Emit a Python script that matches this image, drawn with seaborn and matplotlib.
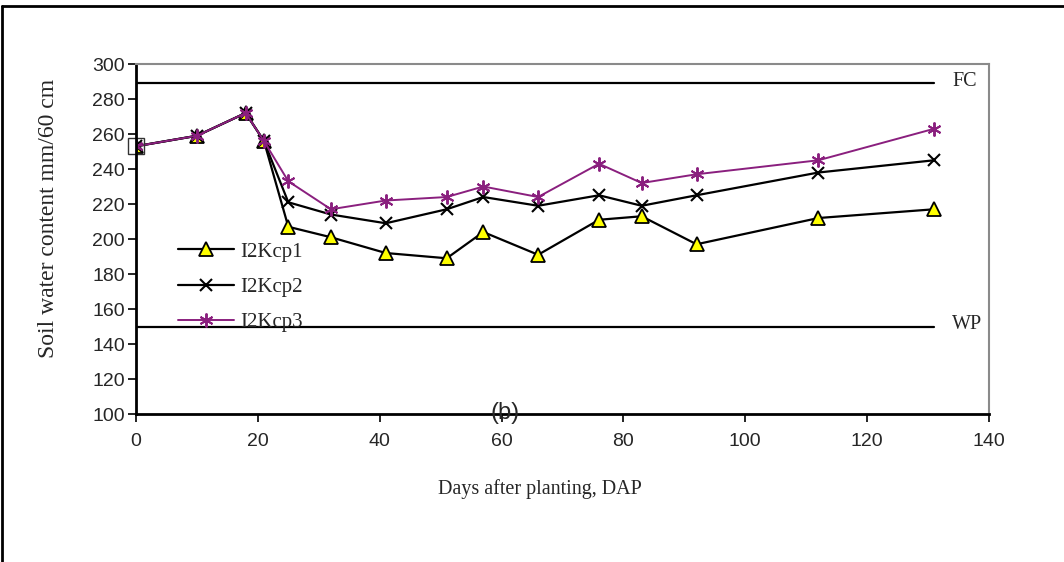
import numpy as np
import pandas as pd
import matplotlib
matplotlib.use('Agg')
import matplotlib.pyplot as plt
from matplotlib.lines import Line2D
import seaborn as sns

# Data
dap = [0, 10, 18, 21, 25, 32, 41, 51, 57, 66, 76, 83, 92, 112, 131]
i2kcp1 = [253, 259, 272, 256, 207, 201, 192, 189, 204, 191, 211, 213, 197, 212, 217]
i2kcp2 = [253, 259, 272, 256, 221, 214, 209, 217, 224, 219, 225, 219, 225, 238, 245]
i2kcp3 = [253, 259, 272, 256, 233, 217, 222, 224, 230, 224, 243, 232, 237, 245, 263]
fc_level = 289
wp_level = 150
x_ticks = [0, 20, 40, 60, 80, 100, 120, 140]
y_ticks = [100, 120, 140, 160, 180, 200, 220, 240, 260, 280, 300]

df = pd.DataFrame({'DAP': dap, 'I2Kcp1': i2kcp1, 'I2Kcp2': i2kcp2, 'I2Kcp3': i2kcp3})

sns.set_style('white')
plt.rcParams['font.family'] = ['Liberation Sans', 'DejaVu Sans']
serif = ['Liberation Serif', 'DejaVu Serif']
purple = '#8a1f7e'

fig = plt.figure(figsize=(10.64, 5.62), dpi=100)
ax = fig.add_axes([0.1278, 0.2633, 0.8017, 0.6228])

# FC / WP reference lines
ax.plot([dap[0], dap[-1]], [fc_level, fc_level], color='black', lw=1.6)
ax.plot([dap[0], dap[-1]], [wp_level, wp_level], color='black', lw=1.6)

sns.lineplot(data=df, x='DAP', y='I2Kcp1', ax=ax, color='black', lw=1.6,
             marker='^', markersize=10, markerfacecolor='#ffff00',
             markeredgecolor='black', markeredgewidth=1.3, label='I2Kcp1')
sns.lineplot(data=df, x='DAP', y='I2Kcp2', ax=ax, color='black', lw=1.6,
             marker='x', markersize=8.5, markeredgewidth=1.5,
             markeredgecolor='black', label='I2Kcp2')
sns.lineplot(data=df, x='DAP', y='I2Kcp3', ax=ax, color=purple, lw=1.4,
             marker=(6, 2, 0), markersize=10, markeredgewidth=1.4,
             markeredgecolor=purple, label='I2Kcp3')
# boxed first point
ax.plot(dap[0], i2kcp1[0], marker='s', markersize=12, markerfacecolor='none',
        markeredgecolor='#333333', markeredgewidth=1.0, clip_on=False)

ax.text(dap[-1] + 3, fc_level + 1, 'FC', family=serif, fontsize=14.5, va='center', ha='left')
ax.text(dap[-1] + 3, wp_level + 1, 'WP', family=serif, fontsize=14.5, va='center', ha='left')
ax.text(60.5, 100.5, '(b)', fontsize=17, ha='center', va='center')

ax.set_xlim(0, 140)
ax.set_ylim(100, 300)
ax.set_xticks(x_ticks)
ax.set_yticks(y_ticks)
ax.tick_params(axis='both', labelsize=14, direction='out', length=6, width=1.2,
               left=True, bottom=True, color='black')
ax.tick_params(axis='x', pad=8)
ax.tick_params(axis='y', pad=2)

ax.set_xlabel('Days after planting, DAP', family=serif, fontsize=14.5)
ax.xaxis.set_label_coords(0.473, -0.185)
ax.set_ylabel('Soil water content mm/60 cm', family=serif, fontsize=17)
ax.yaxis.set_label_coords(-0.09, 0.56)

for s in ['left', 'bottom']:
    ax.spines[s].set_color('black')
    ax.spines[s].set_linewidth(2)
for s in ['top', 'right']:
    ax.spines[s].set_color('#8a8a8a')
    ax.spines[s].set_linewidth(1.5)

leg = ax.legend(loc='upper left', bbox_to_anchor=(0.027, 0.545), frameon=False,
                prop={'family': serif, 'size': 15}, handlelength=2.7,
                labelspacing=0.75, handletextpad=0.3)

# outer frame around the figure
fig.add_artist(Line2D([2 / 1064, 1], [1 - 6 / 562, 1 - 6 / 562], color='black', lw=2,
                      transform=fig.transFigure))
fig.add_artist(Line2D([2 / 1064, 2 / 1064], [0, 1 - 6 / 562], color='black', lw=2,
                      transform=fig.transFigure))

fig.savefig('out.png', dpi=100)
